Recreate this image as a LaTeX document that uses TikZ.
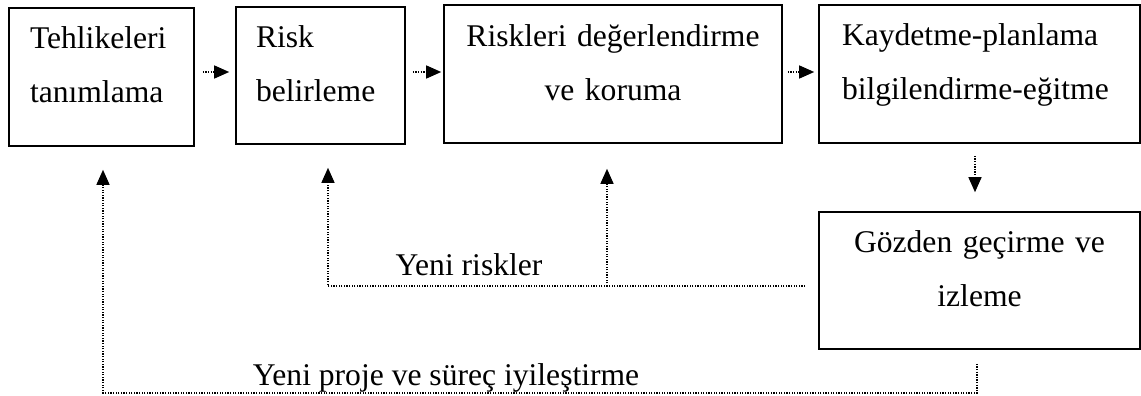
\documentclass[tikz,border=0pt]{standalone}
\usepackage{fontspec}
\setmainfont{Liberation Serif}
\usetikzlibrary{arrows.meta}

\begin{document}
\begin{tikzpicture}[
	x=1pt, y=-1pt,
	every node/.style = {font=\fontsize{31.6}{54}\selectfont},
	stepbox/.style = {draw, line width=1.6pt, inner ysep=0pt},
	dotline/.style = {line width=1.4pt, dash pattern=on 1.3pt off 1.3pt},
	flow/.style = {dotline, -{Triangle[length=15pt, width=13pt]}}
	]
	\useasboundingbox (0,0) rectangle (1141,396);
	% steps
	\node [stepbox, text width=143pt, inner xsep=21pt, text height=41pt, text depth=97pt, align=left]
		(tehlike) at (101.5,77) {Tehlikeleri\\tanımlama};
	\node [stepbox, text width=129pt, inner xsep=20pt, text height=41pt, text depth=96pt, align=left]
		(belirle) at (320.5,75.5) {Risk\\belirleme};
	\node [stepbox, text width=338pt, inner xsep=0pt, text height=42pt, text depth=96pt, align=center]
		(degerlen) at (613,74) {Riskleri değerlendirme\\ve koruma};
	\node [stepbox, text width=275pt, inner xsep=23pt, text height=41pt, text depth=97pt, align=left]
		(kaydet) at (979.5,74) {Kaydetme-planlama\\bilgilendirme-eğitme};
	\node [stepbox, text width=321pt, inner xsep=0pt, text height=40pt, text depth=97pt, align=center]
		(gozden) at (979.5,280.5) {Gözden geçirme ve\\izleme};
	% forward arrows
	\draw [flow, shorten <=8pt, shorten >=6pt] ([yshift=5pt]tehlike.east) -- ([yshift=5pt]tehlike.east -| belirle.west);
	\draw [flow, shorten <=7pt, shorten >=2pt] ([yshift=3.5pt]belirle.east) -- ([yshift=3.5pt]belirle.east -| degerlen.west);
	\draw [flow, shorten <=5pt, shorten >=4pt] ([yshift=2pt]degerlen.east) -- ([yshift=2pt]degerlen.east -| kaydet.west);
	\draw [flow, shorten <=12pt, shorten >=19pt] ([xshift=-4.5pt]kaydet.south) -- ([xshift=-4.5pt]gozden.north);
	% feedback
	\coordinate (riskStart) at ([xshift=-13pt, yshift=-5.5pt]gozden.west);
	\coordinate (riskUp) at ([xshift=-6pt]degerlen.south);
	\draw [flow, shorten >=23pt] (riskStart) -| ([xshift=7.5pt]belirle.south);
	\draw [flow, shorten >=25pt] (riskStart -| riskUp) -- (riskUp);
	\node [anchor=base] (yeniRisk) at (469,275) {Yeni riskler};
	\draw [flow, shorten >=23pt] ([xshift=-2.5pt, yshift=-14pt]gozden.south) -- ++(0,29) -| ([xshift=1.5pt]tehlike.south);
	\node [anchor=base] (yeniProje) at (446,385) {Yeni proje ve süreç iyileştirme};
\end{tikzpicture}
\end{document}
